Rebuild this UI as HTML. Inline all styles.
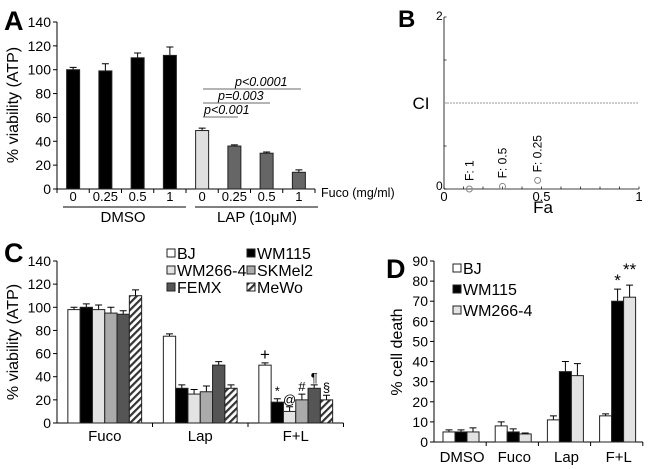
<!DOCTYPE html>
<html><head><meta charset="utf-8"><style>
html,body{margin:0;padding:0;background:#fff}
svg{display:block;font-family:"Liberation Sans",Arial,sans-serif}
</style></head><body>
<svg id="fig" width="650" height="469" viewBox="0 0 650 469">
<defs>
<pattern id="hatch" width="5" height="5" patternUnits="userSpaceOnUse" patternTransform="rotate(45)">
<rect width="5" height="5" fill="#fff"/><rect width="2.2" height="5" fill="#333"/></pattern>
</defs>
<g>
<text x="4" y="30" font-size="27" font-weight="bold">A</text>
<text transform="translate(18,105) rotate(-90)" text-anchor="middle" font-size="16">% viability (ATP)</text>
<g id="aAxes"></g>
<text x="321" y="197" font-size="12.5">Fuco (mg/ml)</text>
<line x1="63" y1="207" x2="186" y2="207" stroke="#000"/>
<line x1="195" y1="207" x2="318" y2="207" stroke="#000"/>
<text x="123" y="222" font-size="15" text-anchor="middle">DMSO</text>
<text x="257" y="222" font-size="15" text-anchor="middle">LAP (10μM)</text>
<g font-size="12.5" font-style="italic">
<line x1="203" y1="89" x2="301" y2="89" stroke="#888" stroke-width="1.2"/>
<line x1="203" y1="103" x2="270" y2="103" stroke="#888" stroke-width="1.2"/>
<line x1="203" y1="117" x2="238" y2="117" stroke="#888" stroke-width="1.2"/>
<text x="235" y="86">p&lt;0.0001</text>
<text x="218" y="100">p=0.003</text>
<text x="204" y="114">p&lt;0.001</text>
</g>
</g>
<g>
<text x="398" y="27" font-size="24" font-weight="bold">B</text>
<g id="bAxes"></g>
<text x="421" y="109" font-size="17" text-anchor="middle">CI</text>
<text x="543" y="213" font-size="17" text-anchor="middle">Fa</text>
</g>
<g>
<text x="4" y="262" font-size="27" font-weight="bold">C</text>
<text transform="translate(18,342) rotate(-90)" text-anchor="middle" font-size="16">% viability (ATP)</text>
<g id="cAxes"></g>
</g>
<g>
<text x="386" y="278" font-size="27" font-weight="bold">D</text>
<text transform="translate(402,352) rotate(-90)" text-anchor="middle" font-size="16">% cell death</text>
<g id="dAxes"></g>
</g>
</svg>
<script>
// Panel A data
const aCats = ["0","0.25","0.5","1","0","0.25","0.5","1"];
const aVals = [100,99,110,112,49,36,30,14];
const aErrs = [2,6,4,7,2,1,1,2];
const aTicks = [0,20,40,60,80,100,120,140];
// Panel B data
const bFa = [0.13,0.30,0.48];
const bCI = [0,0.03,0.1];
const bLabels = ["F: 1","F: 0.5","F: 0.25"];
// Panel C data
const cGroups = ["Fuco","Lap","F+L"];
const cSeries = ["BJ","WM115","WM266-4","SKMel2","FEMX","MeWo"];
const cBJ = [98,75,50];
const cWM115 = [100,30,18];
const cWM266 = [98,25,10];
const cSKMel2 = [95,27,20];
const cFEMX = [94,50,30];
const cMeWo = [110,30,20];
const cErrBJ = [2,2,2];
const cErrWM115 = [3,3,3];
const cErrWM266 = [4,4,4];
const cErrSKMel2 = [5,5,5];
const cErrFEMX = [3,3,3];
const cErrMeWo = [5,3,4];
const cMarks = ["+","*","@","#","¶","§"];
const cTicks = [0,20,40,60,80,100,120,140];
// Panel D data
const dGroups = ["DMSO","Fuco","Lap","F+L"];
const dSeries = ["BJ","WM115","WM266-4"];
const dBJ = [5,8,11,13];
const dWM115 = [5,5,35,70];
const dWM266 = [5,4,33,72];
const dErrBJ = [1,2,2,1];
const dErrWM115 = [1,1.5,5,6];
const dErrWM266 = [2,0.5,6,6];
const dTicks = [0,10,20,30,40,50,60,70,80,90];

const NS="http://www.w3.org/2000/svg";
function mk(parent,tag,attrs,text){const e=document.createElementNS(NS,tag);for(const k in attrs)e.setAttribute(k,attrs[k]);if(text!==undefined)e.textContent=text;parent.appendChild(e);return e;}
function errBar(g,cx,yTop,yErr,w){
  const l=mk(g,'path',{d:`M${cx},${yTop}V${yErr}M${cx-w},${yErr}H${cx+w}`,stroke:'#000','stroke-width':1,fill:'none'});
  
  
}

(function(){
  const g=document.getElementById('aAxes');
  const x0=57,x1=315,y0=189,yTop=22,max=140;
  const y=v=>y0-(v/max)*(y0-yTop);
  const step=(x1-x0)/aCats.length;
  mk(g,'line',{x1:x0,y1:yTop,x2:x0,y2:y0,stroke:'#000'});
  mk(g,'line',{x1:x0,y1:y0,x2:x1,y2:y0,stroke:'#000'});
  aTicks.forEach(t=>{
    mk(g,'line',{x1:x0-4,y1:y(t),x2:x0,y2:y(t),stroke:'#000'});
    const tx=mk(g,'text',{x:x0-6,y:y(t)+5,'text-anchor':'end','font-size':14},t);
    
    
  });
  for(let i=0;i<=aCats.length;i++) mk(g,'line',{x1:x0+i*step,y1:y0,x2:x0+i*step,y2:y0+4,stroke:'#000'});
  const fills=['#000','#000','#000','#000','#e0e0e0','#666','#666','#666'];
  aVals.forEach((v,i)=>{
    const cx=x0+step*(i+0.5),w=13;
    errBar(g,cx,y(v),y(v+aErrs[i]),3.5);
    const r=mk(g,'rect',{x:cx-w/2,y:y(v),width:w,height:y0-y(v),fill:fills[i],stroke:'#222','stroke-width':1});
    
    
    const t=mk(g,'text',{x:cx,y:201,'text-anchor':'middle','font-size':13},aCats[i]);
    
    
  });
})();

(function(){
  const g=document.getElementById('bAxes');
  const x0=444,x1=639,y0=189,yTop=17;
  const x=v=>x0+v*(x1-x0), y=v=>y0-(v/2)*(y0-yTop);
  mk(g,'line',{x1:x0,y1:yTop,x2:x0,y2:y0,stroke:'#000','stroke-width':0.8});
  mk(g,'line',{x1:x0,y1:y0,x2:x1,y2:y0,stroke:'#000','stroke-width':0.8});
  for(let i=0;i<=10;i++) mk(g,'line',{x1:x(i/10),y1:y0,x2:x(i/10),y2:y0-2.5,stroke:'#000','stroke-width':0.7});
  for(let i=0;i<=4;i++) mk(g,'line',{x1:x0,y1:y(i/2),x2:x0+2.5,y2:y(i/2),stroke:'#000','stroke-width':0.7});
  const ref=mk(g,'line',{x1:x0,y1:y(1),x2:x1,y2:y(1),stroke:'#999','stroke-width':1,'stroke-dasharray':'2,1'});
  
  
  [["0",x0-8,y0+1],["2",x0-8,y(2)+3]].forEach(a=>mk(g,'text',{x:a[1],y:a[2],'font-size':12},a[0]));
  [["0",0],["0.5",0.5],["1",1]].forEach(a=>mk(g,'text',{x:x(a[1]),y:y0+12,'text-anchor':'middle','font-size':13},a[0]));
  bFa.forEach((f,i)=>{
    const c=mk(g,'circle',{cx:x(f),cy:y(bCI[i]),r:3,fill:'none',stroke:'#888','stroke-width':1});
    
    
    const t=mk(g,'text',{transform:`translate(${x(f)+4},${y(bCI[i])-8}) rotate(-90)`,'font-size':12},bLabels[i]);
    
    
  });
})();

(function(){
  const g=document.getElementById('cAxes');
  const x0=57,y0=423,yTop=261,max=140,gw=95.5,bw=12.3;
  const y=v=>y0-(v/max)*(y0-yTop);
  const vals=[cBJ,cWM115,cWM266,cSKMel2,cFEMX,cMeWo];
  const errs=[cErrBJ,cErrWM115,cErrWM266,cErrSKMel2,cErrFEMX,cErrMeWo];
  const fills=['#fff','#000','#e3e3e3','#aaa','#555','url(#hatch)'];
  mk(g,'line',{x1:x0,y1:yTop,x2:x0,y2:y0,stroke:'#000'});
  mk(g,'line',{x1:x0,y1:y0,x2:x0+gw*3,y2:y0,stroke:'#000'});
  cTicks.forEach(t=>{
    mk(g,'line',{x1:x0-4,y1:y(t),x2:x0,y2:y(t),stroke:'#000'});
    mk(g,'text',{x:x0-6,y:y(t)+5,'text-anchor':'end','font-size':14},t);
  });
  cGroups.forEach((name,gi)=>{
    mk(g,'line',{x1:x0+gw*(gi+1),y1:y0,x2:x0+gw*(gi+1),y2:y0+4,stroke:'#000'});
    const t=mk(g,'text',{x:x0+gw*(gi+0.5),y:y0+18,'text-anchor':'middle','font-size':15},name);
    
    
    const start=x0+gw*gi+(gw-bw*6)/2;
    vals.forEach((s,si)=>{
      const bx=start+si*bw, v=s[gi], cx=bx+bw/2;
      errBar(g,cx,y(v),y(v+errs[si][gi]),3.5);
      const r=mk(g,'rect',{x:bx,y:y(v),width:bw,height:y0-y(v),fill:fills[si],stroke:'#222','stroke-width':1});
      
      
      if(gi===2){
        const m=mk(g,'text',{x:cx,y:y(v+errs[si][gi])-3,'text-anchor':'middle','font-size':cMarks[si]==='+'?17:13},cMarks[si]);
        
        
      }
    });
  });
  const lg=mk(g,'g',{});
  
  
  const lpos=[[167,259],[247,259],[167,276],[247,276],[167,293],[247,293]];
  cSeries.forEach((s,i)=>{
    const [lx,ly]=lpos[i];
    mk(lg,'rect',{x:lx,y:ly-10,width:8,height:8,fill:fills[i],stroke:'#222','stroke-width':1});
    const t=mk(lg,'text',{x:lx+10,y:ly,'font-size':16},s);
    
    
  });
})();

(function(){
  const g=document.getElementById('dAxes');
  const x0=434,y0=442,yTop=261,max=90,gw=52.2,bw=12;
  const y=v=>y0-(v/max)*(y0-yTop);
  const vals=[dBJ,dWM115,dWM266], errs=[dErrBJ,dErrWM115,dErrWM266];
  const fills=['#fff','#000','#e3e3e3'];
  mk(g,'line',{x1:x0,y1:yTop,x2:x0,y2:y0,stroke:'#000'});
  mk(g,'line',{x1:x0,y1:y0,x2:x0+gw*4,y2:y0,stroke:'#000'});
  dTicks.forEach(t=>{
    mk(g,'line',{x1:x0-4,y1:y(t),x2:x0,y2:y(t),stroke:'#000'});
    mk(g,'text',{x:x0-6,y:y(t)+5,'text-anchor':'end','font-size':14},t);
  });
  dGroups.forEach((name,gi)=>{
    mk(g,'line',{x1:x0+gw*(gi+1),y1:y0,x2:x0+gw*(gi+1),y2:y0+4,stroke:'#000'});
    const t=mk(g,'text',{x:x0+gw*(gi+0.5)+2,y:y0+20,'text-anchor':'middle','font-size':15},name);
    
    
    const start=x0+gw*gi+9;
    vals.forEach((s,si)=>{
      const bx=start+si*bw, v=s[gi], cx=bx+bw/2;
      errBar(g,cx,y(v),y(v+errs[si][gi]),3.5);
      const r=mk(g,'rect',{x:bx,y:y(v),width:bw,height:y0-y(v),fill:fills[si],stroke:'#222','stroke-width':1});
      
      
      if(gi===3&&si>0){
        const m=mk(g,'text',{x:cx,y:y(v+errs[si][gi])-(si===2?10:3),'text-anchor':'middle','font-size':17},si===1?'*':'**');
        
        
      }
    });
  });
  const lg=mk(g,'g',{});
  
  
  dSeries.forEach((s,i)=>{
    const lx=453, ly=274+i*21;
    mk(lg,'rect',{x:lx,y:ly-10,width:8,height:8,fill:fills[i],stroke:'#222','stroke-width':1});
    const t=mk(lg,'text',{x:lx+10,y:ly,'font-size':16},s);
    
    
  });
})();
</script>
</body></html>
